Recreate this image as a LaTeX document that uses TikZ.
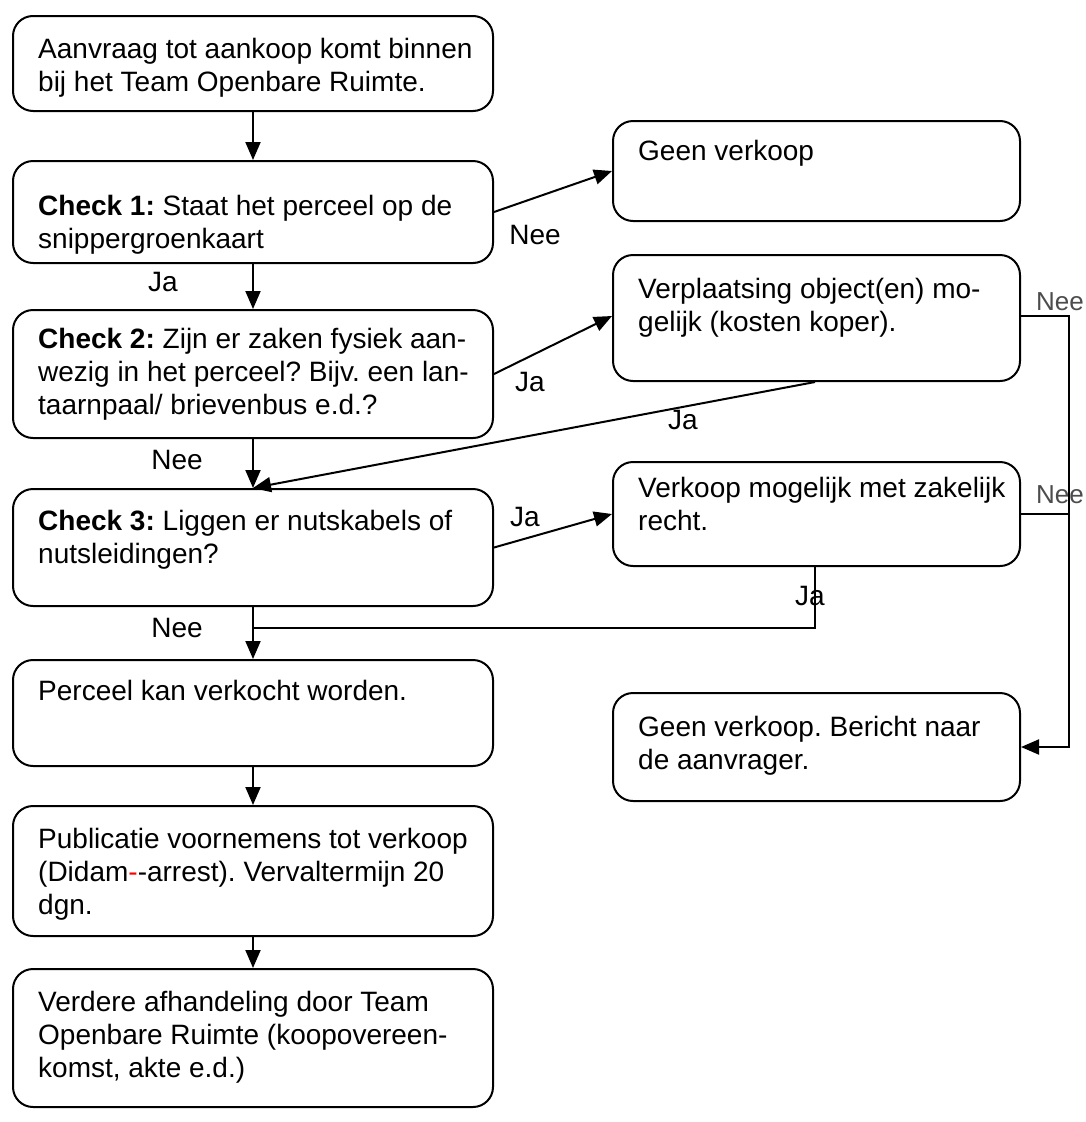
\documentclass[tikz,border=0pt]{standalone}
\usepackage{fontspec}
\setmainfont{Liberation Sans}
\usetikzlibrary{arrows.meta,calc}
\frenchspacing
\begin{document}
\begin{tikzpicture}[x=1pt,y=-1pt,
  box/.style={draw, line width=2pt, rounded corners=20pt, anchor=north west, inner sep=0pt},
  txt/.style={anchor=north west, inner sep=0pt, align=left, font=\fontsize{28}{33}\selectfont},
  lbl/.style={inner sep=0pt, font=\fontsize{28}{33}\selectfont},
  glbl/.style={inner sep=0pt, text=black!70, font=\fontsize{26}{30}\selectfont},
  arr/.style={line width=2pt, -{Triangle[length=18pt,width=15pt]}},
  ln/.style={line width=2pt}]
\useasboundingbox (0,0) rectangle (1086,1122);
% left column boxes
\node[box, minimum width=480pt, minimum height=95pt] (b1) at (12,15) {};
\node[box, minimum width=480pt, minimum height=102pt] (b2) at (12,160) {};
\node[box, minimum width=480pt, minimum height=128pt] (b3) at (12,309) {};
\node[box, minimum width=480pt, minimum height=117pt] (b4) at (12,488) {};
\node[box, minimum width=480pt, minimum height=106pt] (b5) at (12,659) {};
\node[box, minimum width=480pt, minimum height=130pt] (b6) at (12,805) {};
\node[box, minimum width=480pt, minimum height=138pt] (b7) at (12,968) {};
% right column boxes
\node[box, minimum width=407pt, minimum height=100pt] (r1) at (612,120) {};
\node[box, minimum width=407pt, minimum height=126pt] (r2) at (612,254) {};
\node[box, minimum width=407pt, minimum height=104pt] (r3) at (612,461) {};
\node[box, minimum width=407pt, minimum height=108pt] (r4) at (612,692) {};
% texts (top = baseline - 23.1)
\node[txt] (b1t) at (38,35) {\strut Aanvraag tot aankoop komt binnen\\bij het Team Openbare Ruimte.};
\node[txt] (b2t) at (38,192) {\strut\textbf{Check 1:} Staat het perceel op de\\snippergroenkaart};
\node[txt] (b3t) at (38,325) {\strut\textbf{Check 2:} Zijn er zaken fysiek aan-\\wezig in het perceel? Bijv. een lan-\\taarnpaal/ brievenbus e.d.?};
\node[txt] (b4t) at (38,507) {\strut\textbf{Check 3:} Liggen er nutskabels of\\nutsleidingen?};
\node[txt] (b5t) at (38,677) {\strut Perceel kan verkocht worden.};
\node[txt] (b6t) at (38,825) {\strut Publicatie voornemens tot verkoop\\(Didam{\color{red}-}-arrest). Vervaltermijn 20\\dgn.};
\node[txt] (b7t) at (38,988) {\strut Verdere afhandeling door Team\\Openbare Ruimte (koopovereen-\\komst, akte e.d.)};
\node[txt] (r1t) at (638,137) {\strut Geen verkoop};
\node[txt] (r2t) at (638,275) {\strut Verplaatsing object(en) mo-\\gelijk (kosten koper).};
\node[txt] (r3t) at (638,474) {\strut Verkoop mogelijk met zakelijk\\recht.};
\node[txt] (r4t) at (638,713) {\strut Geen verkoop. Bericht naar\\de aanvrager.};
% connectors
\draw[arr] (b1.south) -- (b2.north);
\draw[arr] (b2.east) -- (r1.west);
\draw[arr] (b2.south) -- (b3.north);
\draw[arr] (b3.east) -- ($(r2.west)+(0,-2)$);
\draw[arr] (b3.south) -- (b4.north);
\draw[arr] ($(r2.south west)+(203,0)$) -- (b4.north);
\draw[arr] (b4.east) -- (r3.west);
\draw[arr] (b4.south) -- (b5.north);
\coordinate (j1) at ($(b4.south)!0.4!(b5.north)$);
\draw[ln] ($(r3.south west)+(203,0)$) |- (j1);
\draw[arr] (b5.south) -- (b6.north);
\draw[arr] (b6.south) -- (b7.north);
\draw[arr] ($(r2.east)+(0,-2)$) -- ++(48,0) |- (r4.east);
\draw[ln] (r3.east) -- ++(48,0);
% labels
\node[lbl] (l1) at (163,282) {Ja};
\node[lbl] (l2) at (177,460) {Nee};
\node[lbl] (l3) at (177,628) {Nee};
\node[lbl] (l4) at (535,235) {Nee};
\node[lbl] (l5) at (530,382) {Ja};
\node[lbl] (l6) at (683,420) {Ja};
\node[lbl] (l7) at (525,517) {Ja};
\node[lbl] (l8) at (810,596) {Ja};
\node[glbl] (l9) at (1060,302) {Nee};
\node[glbl] (l10) at (1060,495) {Nee};
\end{tikzpicture}
\end{document}
